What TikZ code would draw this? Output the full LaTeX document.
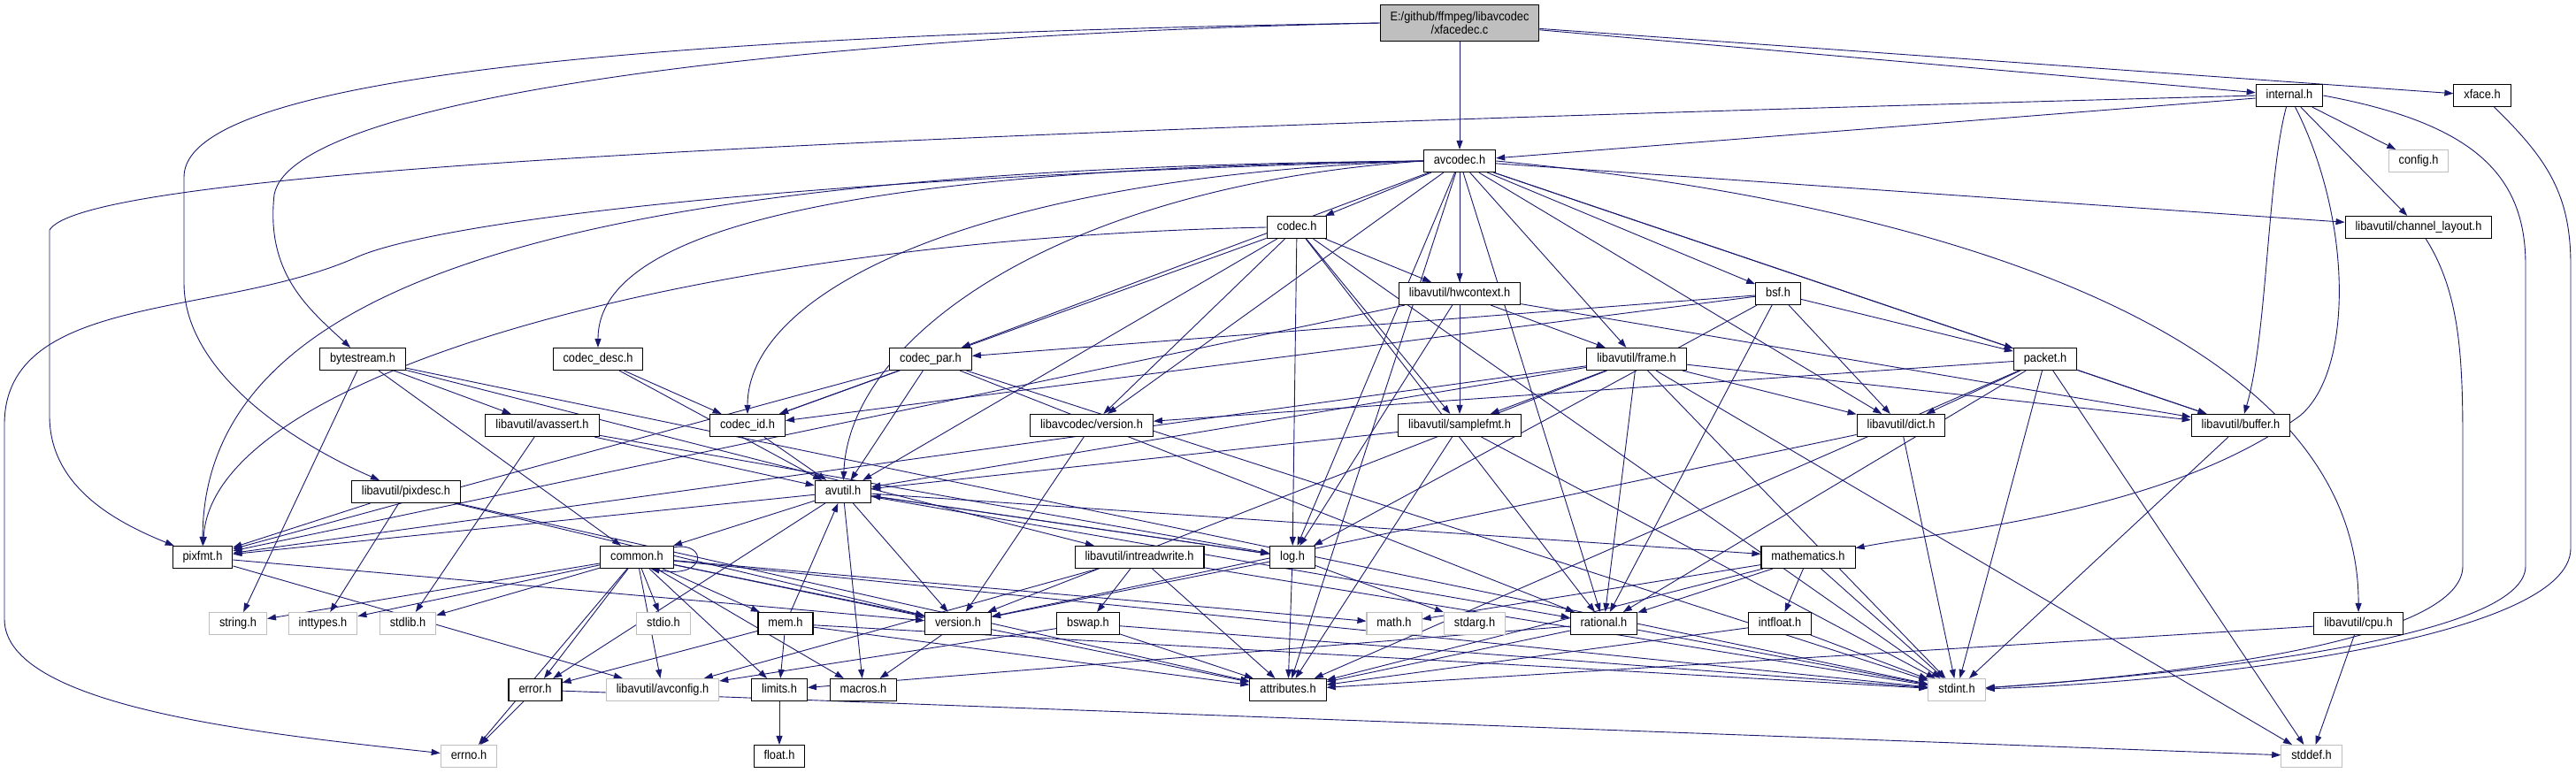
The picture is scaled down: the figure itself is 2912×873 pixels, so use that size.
\documentclass[tikz,border=0pt]{standalone}
\usepackage{fontspec}
\setmainfont{Liberation Sans}[FakeStretch=0.9]
\usetikzlibrary{arrows.meta}
\definecolor{edgec}{HTML}{191970}
\definecolor{grayb}{HTML}{BFBFBF}
\pgfdeclarelayer{bg}
\pgfdeclarelayer{edges}
\pgfsetlayers{bg,edges,main}
\tikzset{
  base/.style={draw=black, line width=1.1pt, fill=white, font=\fontsize{14.2}{15.3}\selectfont,
    inner xsep=11.5pt, inner ysep=0pt, minimum height=25pt},
  nd/.style={base, text height=10.3pt, text depth=2.9pt},
  gr/.style={nd, draw=grayb},
  rt/.style={base, fill=grayb, align=center, minimum height=41pt},
  e/.style={draw=edgec, line width=0.9pt, -{Triangle[length=10pt,width=7pt]}}
}
\begin{document}
\begin{tikzpicture}[x=1pt,y=-1pt]
\begin{pgfonlayer}{bg}
\fill[white] (0,0) rectangle (2912,873);
\end{pgfonlayer}
\useasboundingbox (0,0) rectangle (2912,873);
\node[rt] (root) at (1650,26) {E:/github/ffmpeg/libavcodec\\/xfacedec.c};
\node[nd] (internal) at (2588,108) {internal.h};
\node[nd] (xface) at (2806,108) {xface.h};
\node[nd] (avcodec) at (1650,182) {avcodec.h};
\node[gr] (config) at (2734,182) {config.h};
\node[nd] (codec) at (1466,257) {codec.h};
\node[nd] (chlayout) at (2734,257) {libavutil/channel\_layout.h};
\node[nd] (hwcontext) at (1650,332) {libavutil/hwcontext.h};
\node[nd] (bsf) at (2010,332) {bsf.h};
\node[nd] (bytestream) at (410,406) {bytestream.h};
\node[nd] (codecdesc) at (676,406) {codec\_desc.h};
\node[nd] (codecpar) at (1052,406) {codec\_par.h};
\node[nd] (frame) at (1850,406) {libavutil/frame.h};
\node[nd] (packet) at (2312,406) {packet.h};
\node[nd] (avassert) at (613,481) {libavutil/avassert.h};
\node[nd] (codecid) at (845,481) {codec\_id.h};
\node[nd] (lavcversion) at (1234,481) {libavcodec/version.h};
\node[nd] (samplefmt) at (1650,481) {libavutil/samplefmt.h};
\node[nd] (dict) at (2149,481) {libavutil/dict.h};
\node[nd] (buffer) at (2533,481) {libavutil/buffer.h};
\node[nd] (pixdesc) at (459,556) {libavutil/pixdesc.h};
\node[nd] (avutil) at (953,556) {avutil.h};
\node[nd] (pixfmt) at (229,630) {pixfmt.h};
\node[nd] (common) at (720,630) {common.h};
\node[nd] (intreadwrite) at (1288,630) {libavutil/intreadwrite.h};
\node[nd] (log) at (1461,630) {log.h};
\node[nd] (mathematics) at (2044,630) {mathematics.h};
\node[gr] (stringh) at (269,705) {string.h};
\node[gr] (inttypes) at (365,705) {inttypes.h};
\node[gr] (stdlib) at (461,705) {stdlib.h};
\node[gr] (stdio) at (750,705) {stdio.h};
\node[nd] (mem) at (888,705) {mem.h};
\node[nd] (version) at (1083,705) {version.h};
\node[nd] (bswap) at (1230,705) {bswap.h};
\node[gr] (math) at (1576,705) {math.h};
\node[gr] (stdarg) at (1667,705) {stdarg.h};
\node[nd] (rational) at (1813,705) {rational.h};
\node[nd] (intfloat) at (2012,705) {intfloat.h};
\node[nd] (cpu) at (2666,705) {libavutil/cpu.h};
\node[nd] (error) at (605,780) {error.h};
\node[gr] (avconfig) at (749,780) {libavutil/avconfig.h};
\node[nd] (limits) at (881,780) {limits.h};
\node[nd] (macros) at (976,780) {macros.h};
\node[nd] (attributes) at (1456,780) {attributes.h};
\node[gr] (stdint) at (2212,780) {stdint.h};
\node[gr] (errno) at (530,855) {errno.h};
\node[nd] (float) at (881,855) {float.h};
\node[gr] (stddef) at (2613,855) {stddef.h};
\begin{pgfonlayer}{edges}
\foreach \a/\b in {root/avcodec, root/internal, root/xface,
  internal/avcodec, internal/config, internal/chlayout,
  avcodec/samplefmt, avcodec/attributes, avcodec/buffer, avcodec/chlayout,
  avcodec/dict, avcodec/frame, avcodec/hwcontext, avcodec/log, avcodec/rational,
  avcodec/bsf, avcodec/codec, avcodec/codecpar, avcodec/packet,
  avcodec/lavcversion,
  codec/stdint, codec/avutil, codec/hwcontext, codec/log, codec/rational,
  codec/samplefmt, codec/codecid, codec/lavcversion,
  hwcontext/buffer, hwcontext/frame, hwcontext/log, hwcontext/pixfmt,
  bsf/dict, bsf/log, bsf/rational, bsf/codecid, bsf/codecpar, bsf/packet,
  bytestream/stdint, bytestream/stringh, bytestream/avassert, bytestream/common, bytestream/intreadwrite,
  codecdesc/avutil, codecdesc/codecid,
  codecpar/stdint, codecpar/avutil, codecpar/rational, codecpar/pixfmt, codecpar/codecid,
  frame/stddef, frame/stdint, frame/avutil, frame/buffer, frame/dict, frame/rational,
  frame/samplefmt, frame/pixfmt, frame/version,
  packet/stddef, packet/stdint, packet/attributes, packet/buffer, packet/dict, packet/rational,
  packet/lavcversion,
  avassert/stdlib, avassert/avutil, avassert/log,
  codecid/avutil, lavcversion/version,
  samplefmt/stdint, samplefmt/avutil, samplefmt/attributes,
  dict/stdint, dict/version, buffer/stdint,
  pixdesc/inttypes, pixdesc/attributes, pixdesc/pixfmt, pixdesc/version,
  avutil/common, avutil/error, avutil/rational, avutil/version, avutil/macros,
  avutil/mathematics, avutil/log, avutil/pixfmt,
  pixfmt/avconfig, pixfmt/version,
  common/errno, common/inttypes, common/limits, common/math, common/stdint, common/stdio,
  common/stdlib, common/stringh, common/attributes, common/macros, common/version,
  common/avconfig, common/mem, common/error,
  intreadwrite/stdint, intreadwrite/avconfig, intreadwrite/attributes, intreadwrite/bswap,
  log/stdarg, log/avutil, log/attributes, log/version,
  mathematics/stdint, mathematics/math, mathematics/attributes, mathematics/rational,
  mathematics/intfloat,
  mem/limits, mem/stdint, mem/attributes, mem/error, mem/avutil,
  bswap/stdint, bswap/avconfig, bswap/attributes,
  rational/stdint, rational/limits, rational/attributes,
  intfloat/stdint, intfloat/attributes,
  cpu/stddef, cpu/attributes,
  version/macros, error/errno, error/stddef, limits/float}
  \draw[e] (\a) -- (\b);
\draw[e] (avcodec.west) .. controls (1000,190) and (676,250) .. (codecdesc);
\draw[e] (avcodec.west) .. controls (700,190) and (230,300) .. (pixfmt);
\draw[e] (avcodec.west) .. controls (1100,200) and (845,330) .. (codecid);
\draw[e] (avcodec.west) .. controls (1200,210) and (960,380) .. (avutil);
\draw[e] (codec.west) .. controls (800,270) and (240,420) .. (pixfmt);
\draw[e] (internal) .. controls (2563,200) and (2563,380) .. (buffer);
\draw[e] (internal) .. controls (2660,250) and (2660,420) .. (2600,470) .. controls (2450,580) and (2200,600) .. (mathematics);
\draw[e] (root.west) .. controls (900,40) and (330,110) .. (310,220) .. controls (300,310) and (350,350) .. (bytestream);
\draw[e] (root.west) .. controls (700,40) and (208,90) .. (208,200) -- (208,320) .. controls (208,420) and (330,500) .. (pixdesc);
\draw[e] (internal.west) .. controls (1000,150) and (100,190) .. (56,260) -- (56,470) .. controls (56,550) and (130,590) .. (pixfmt);
\draw[e] (avcodec.west) .. controls (900,200) and (500,250) .. (405,290) .. controls (250,360) and (5,330) .. (5,480) -- (5,700) .. controls (5,800) and (300,830) .. (errno);
\draw[e] (internal.east) .. controls (2800,140) and (2855,200) .. (2855,300) -- (2855,640) .. controls (2855,720) and (2500,760) .. (stdint);
\draw[e] (xface) .. controls (2880,180) and (2906,220) .. (2906,300) -- (2906,620) .. controls (2906,720) and (2500,770) .. (stdint);
\draw[e] (chlayout) .. controls (2780,330) and (2784,400) .. (2784,500) -- (2784,640) .. controls (2784,720) and (2500,760) .. (stdint);
\draw[e] (avcodec.east) .. controls (2200,230) and (2667,380) .. (cpu);
\draw[e] (common.15) .. controls (800,612) and (800,655) .. (common.-40);
\end{pgfonlayer}
\end{tikzpicture}
\end{document}
